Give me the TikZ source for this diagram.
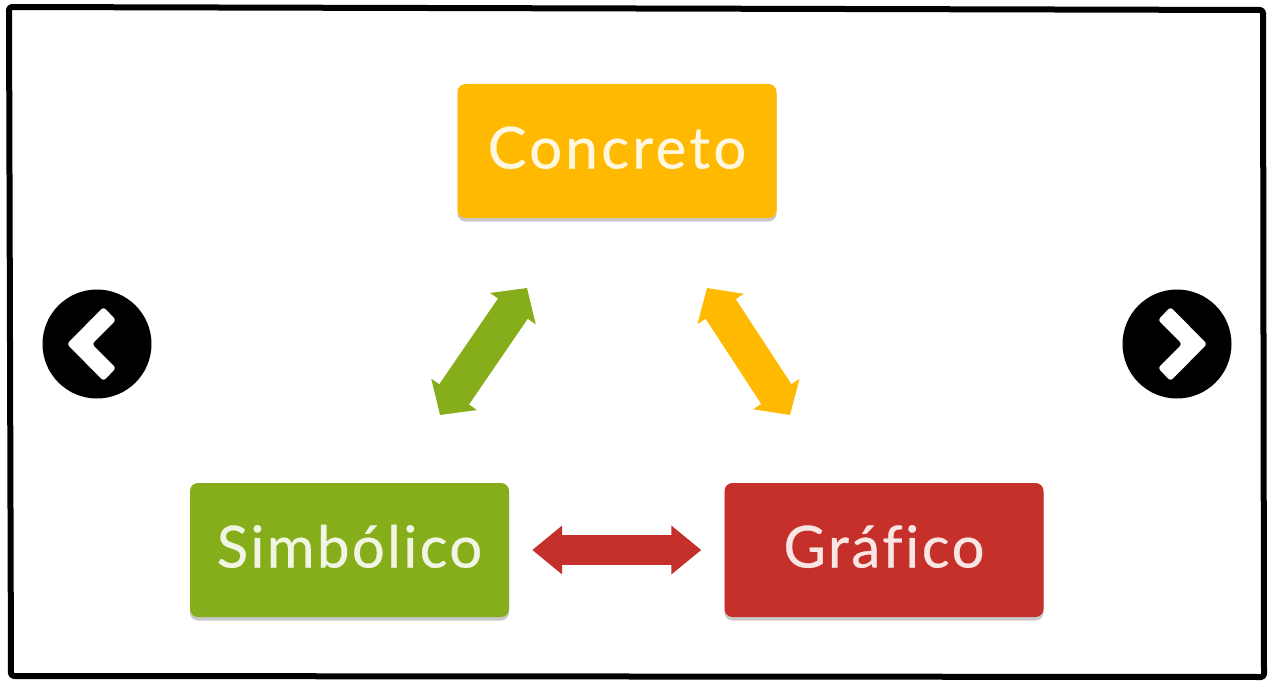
\documentclass[tikz,border=0pt]{standalone}
\usepackage{fontspec}
\setmainfont{Lato}[FakeBold=0.5,Ligatures=NoCommon]
\usetikzlibrary{arrows.meta,shadows}
\definecolor{cyellow}{HTML}{FFB900}
\definecolor{cgreen}{HTML}{86AE1B}
\definecolor{cred}{HTML}{C5302B}
\tikzset{
  box/.style={rounded corners=8pt,minimum width=319pt,minimum height=134pt,inner sep=0pt,
    text height=50pt,text depth=15pt,
    font=\fontsize{58}{58}\selectfont,
    drop shadow={shadow xshift=0pt,shadow yshift=-3.5pt,fill=black!30,opacity=.7}},
  link/.style={line width=36pt,{Triangle[length=25pt,width=54pt]}-{Triangle[length=25pt,width=54pt]}},
  redlink/.style={line width=30pt,{Triangle[length=30pt,width=47pt]}-{Triangle[length=30pt,width=47pt]}},
  disc/.style={circle,fill=black,minimum size=109pt,inner sep=0pt},
  chevron/.style={fill=white,rounded corners=3pt}
}
\begin{document}
\begin{tikzpicture}[x=1pt,y=-1pt]
\useasboundingbox (0,0) rectangle (1280,693);
\fill[white] (0,0) rectangle (1280,693);
\draw[line width=6pt,line join=round,rounded corners=3pt] (9,7) -- (1263,10) -- (1264,677) -- (11,676) -- cycle;
\node[box,fill=cyellow,text=white!88!cyellow] (conc) at (617,151) {\addfontfeature{LetterSpace=5.8}Concreto};
\node[box,fill=cgreen,text=white!88!cgreen] (simb) at (349.5,550) {\addfontfeature{LetterSpace=4.2}Simbólico};
\node[box,fill=cred,text=white!88!cred] (graf) at (884,550) {\addfontfeature{LetterSpace=4.5}Gráfico};
\coordinate (gs) at (440,415);
\coordinate (ge) at (527,288);
\coordinate (ys) at (707,288);
\coordinate (ye) at (790,415);
\draw[link,cgreen] (gs) -- (ge);
\draw[link,cyellow] (ys) -- (ye);
\draw[redlink,cred,shorten <=23pt,shorten >=23pt] (simb) -- (graf);
\node[disc] (prev) at (97,344) {};
\node[disc] (next) at (1177,344) {};
\fill[chevron] (103.5,307) -- (116,320) -- (92,344) -- (116,368) -- (103.5,381) -- (67,344) -- cycle;
\fill[chevron] (1170.5,307) -- (1158,320) -- (1182,344) -- (1158,368) -- (1170.5,381) -- (1207,344) -- cycle;
\end{tikzpicture}
\end{document}
